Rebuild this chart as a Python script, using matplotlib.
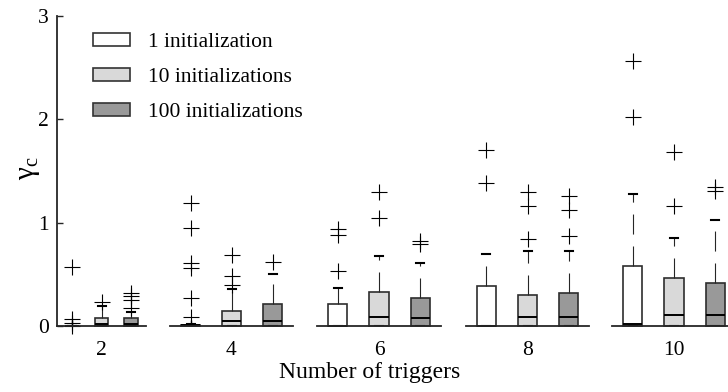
"""
Box plots of gamma_c vs number of triggers for 1 / 10 / 100 initializations.
One axes per trigger count, MATLAB-like styling.
"""

import matplotlib
matplotlib.use('Agg')
import matplotlib.pyplot as plt
from matplotlib.patches import Patch

plt.rcParams['font.family'] = ['Liberation Serif', 'DejaVu Serif']
plt.rcParams['mathtext.fontset'] = 'custom'
plt.rcParams['mathtext.rm'] = 'Liberation Serif'
plt.rcParams['mathtext.it'] = 'Liberation Serif:italic'
plt.rcParams['lines.scale_dashes'] = False

# ── Data ─────────────────────────────────────────────────────────────────
triggers = [2, 4, 6, 8, 10]
series = ['1 initialization', '10 initializations', '100 initializations']
fills = ['white', '#d9d9d9', '#999999']

# 1 initialization
q3_1 = [0.0, 0.01, 0.21, 0.39, 0.58]
med_1 = [0.0, 0.005, 0.0, 0.0, 0.02]
whi_1 = [0.0, 0.02, 0.37, 0.70, 1.28]
fl_1 = [[0.57, 0.065, 0.03, 0.0],
        [1.19, 0.945, 0.61, 0.56, 0.27, 0.09],
        [0.935, 0.88, 0.535],
        [1.70, 1.385],
        [2.565, 2.02]]

# 10 initializations
q3_10 = [0.08, 0.15, 0.325, 0.30, 0.46]
med_10 = [0.02, 0.05, 0.085, 0.087, 0.11]
whi_10 = [0.19, 0.36, 0.68, 0.73, 0.85]
fl_10 = [[0.235],
         [0.69, 0.48, 0.40],
         [1.30, 1.05],
         [1.30, 1.16, 0.845],
         [1.68, 1.165]]

# 100 initializations
q3_100 = [0.075, 0.21, 0.27, 0.317, 0.42]
med_100 = [0.015, 0.05, 0.075, 0.087, 0.11]
whi_100 = [0.14, 0.50, 0.61, 0.73, 1.025]
fl_100 = [[0.32, 0.29, 0.25, 0.17],
          [0.62],
          [0.82, 0.79],
          [1.26, 1.12, 0.875],
          [1.35, 1.31]]

q3s = [q3_1, q3_10, q3_100]
meds = [med_1, med_10, med_100]
whis = [whi_1, whi_10, whi_100]
fls = [fl_1, fl_10, fl_100]

# ── Layout (pixels) ──────────────────────────────────────────────────────
W, H = 728, 392
ax_left = [57, 170, 317, 466, 612]
ax_width = [89, 123, 124, 123, 124]
y_top, y_bot = 16, 326

fig = plt.figure(figsize=(W / 100, H / 100), dpi=100)
dark = '#262626'

for g, t in enumerate(triggers):
    ax = fig.add_axes([ax_left[g] / W, 1 - y_bot / H,
                       ax_width[g] / W, (y_bot - y_top) / H])
    px_per_unit = ax_width[g] / 3.0
    stats = []
    for s in range(3):
        stats.append(dict(med=meds[s][g], q1=0.0, q3=q3s[s][g],
                          whislo=0.0, whishi=whis[s][g],
                          fliers=fls[s][g]))
    bp = ax.bxp(stats, positions=[1, 2, 3], widths=0.46,
                capwidths=8 / px_per_unit, patch_artist=True,
                boxprops=dict(edgecolor='#2e2e2e', linewidth=1.2),
                medianprops=dict(color='black', linewidth=1.4),
                whiskerprops=dict(color=dark, linewidth=0.8,
                                  linestyle=(0, (14.4, 8.6))),
                capprops=dict(color='black', linewidth=1.5),
                flierprops=dict(marker='+', markersize=12,
                                markeredgecolor='black',
                                markeredgewidth=0.8))
    for s, box in enumerate(bp['boxes']):
        box.set_facecolor(fills[s])
        box.set_clip_on(False)
    for fl in bp['fliers']:
        fl.set_clip_on(False)
    for med in bp['medians']:
        med.set_clip_on(False)

    ax.set_xlim(0.5, 3.5)
    ax.set_ylim(0, 3)
    ax.set_xticks([1, 2, 3])
    ax.set_xticklabels(['', str(t), ''])
    ax.tick_params(axis='x', direction='in', length=4, width=1.0,
                   color=dark, labelsize=15.5, pad=11)
    for side in ['top', 'right']:
        ax.spines[side].set_visible(False)
    ax.spines['bottom'].set_linewidth(1.3)
    ax.spines['bottom'].set_color(dark)
    if g == 0:
        ax.set_yticks([0, 1, 2, 3])
        ax.tick_params(axis='y', direction='in', length=4, width=1.0,
                       color=dark, labelsize=15.5, pad=6)
        ax.spines['left'].set_linewidth(1.3)
        ax.spines['left'].set_color(dark)
    else:
        ax.spines['left'].set_visible(False)
        ax.set_yticks([])
    ax.patch.set_visible(False)

fig.text(29 / W, 1 - 168 / H, r'$\mathrm{\gamma}_\mathrm{c}$', fontsize=21,
         rotation=90, ha='center', va='center')
fig.text(370 / W, 1 - 378 / H, 'Number of triggers', fontsize=17,
         ha='center', va='baseline')

handles = [Patch(facecolor=c, edgecolor='#333333', linewidth=1.2) for c in fills]
fig.legend(handles, series, loc='upper left',
           bbox_to_anchor=(93 / W, 1 - 33 / H), frameon=False,
           fontsize=15.5, borderpad=0, borderaxespad=0,
           handlelength=1.72, handleheight=0.56, handletextpad=0.84,
           labelspacing=0.73)

fig.savefig('out.png', dpi=100)
